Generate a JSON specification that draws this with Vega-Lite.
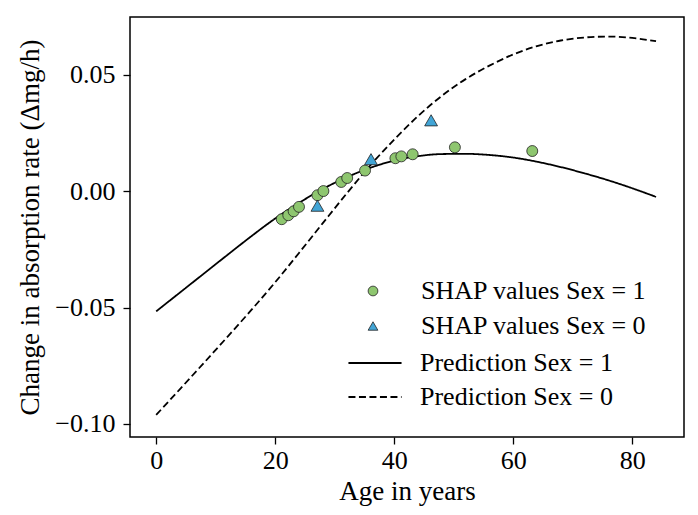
{
  "$schema": "https://vega.github.io/schema/vega-lite/v6.json",
  "width": 554,
  "height": 420,
  "autosize": {"type": "none"},
  "padding": {"left": 130, "top": 17, "right": 14, "bottom": 78},
  "background": "white",
  "config": {
    "font": "Liberation Serif",
    "view": {"stroke": "black", "strokeWidth": 1.5},
    "axis": {
      "domain": false,
      "grid": false,
      "tickColor": "black",
      "tickWidth": 1.3,
      "tickSize": 7,
      "labelFont": "Liberation Serif",
      "labelFontSize": 26,
      "labelColor": "black",
      "titleFont": "Liberation Serif",
      "titleFontSize": 27,
      "titleFontWeight": "normal",
      "titleColor": "black"
    },
    "legend": {
      "labelFont": "Liberation Serif",
      "labelFontSize": 26,
      "labelColor": "black",
      "labelLimit": 0,
      "padding": 0,
      "titlePadding": 0
    }
  },
  "datasets": {
    "points": [
      {"age": 21.1, "shap": -0.0120, "series": "SHAP values Sex = 1"},
      {"age": 22.2, "shap": -0.0103, "series": "SHAP values Sex = 1"},
      {"age": 23.1, "shap": -0.0086, "series": "SHAP values Sex = 1"},
      {"age": 24.0, "shap": -0.0067, "series": "SHAP values Sex = 1"},
      {"age": 27.1, "shap": -0.0017, "series": "SHAP values Sex = 1"},
      {"age": 28.1, "shap": 0.0001, "series": "SHAP values Sex = 1"},
      {"age": 31.1, "shap": 0.0040, "series": "SHAP values Sex = 1"},
      {"age": 32.1, "shap": 0.0057, "series": "SHAP values Sex = 1"},
      {"age": 35.1, "shap": 0.0089, "series": "SHAP values Sex = 1"},
      {"age": 40.2, "shap": 0.0142, "series": "SHAP values Sex = 1"},
      {"age": 41.2, "shap": 0.0150, "series": "SHAP values Sex = 1"},
      {"age": 43.1, "shap": 0.0159, "series": "SHAP values Sex = 1"},
      {"age": 50.2, "shap": 0.0189, "series": "SHAP values Sex = 1"},
      {"age": 63.2, "shap": 0.0173, "series": "SHAP values Sex = 1"},
      {"age": 27.1, "shap": -0.0062, "series": "SHAP values Sex = 0"},
      {"age": 36.1, "shap": 0.0138, "series": "SHAP values Sex = 0"},
      {"age": 46.2, "shap": 0.0305, "series": "SHAP values Sex = 0"}
    ],
    "lines": [
      {"age": 0, "pred": -0.0516, "series": "Prediction Sex = 1"},
      {"age": 4, "pred": -0.0435, "series": "Prediction Sex = 1"},
      {"age": 8, "pred": -0.0354, "series": "Prediction Sex = 1"},
      {"age": 12, "pred": -0.0273, "series": "Prediction Sex = 1"},
      {"age": 16, "pred": -0.0193, "series": "Prediction Sex = 1"},
      {"age": 20, "pred": -0.0117, "series": "Prediction Sex = 1"},
      {"age": 24, "pred": -0.0050, "series": "Prediction Sex = 1"},
      {"age": 28, "pred": 0.0010, "series": "Prediction Sex = 1"},
      {"age": 32, "pred": 0.0060, "series": "Prediction Sex = 1"},
      {"age": 36, "pred": 0.0101, "series": "Prediction Sex = 1"},
      {"age": 40, "pred": 0.0132, "series": "Prediction Sex = 1"},
      {"age": 44, "pred": 0.0151, "series": "Prediction Sex = 1"},
      {"age": 48, "pred": 0.0160, "series": "Prediction Sex = 1"},
      {"age": 52, "pred": 0.0161, "series": "Prediction Sex = 1"},
      {"age": 56, "pred": 0.0156, "series": "Prediction Sex = 1"},
      {"age": 60, "pred": 0.0145, "series": "Prediction Sex = 1"},
      {"age": 64, "pred": 0.0127, "series": "Prediction Sex = 1"},
      {"age": 68, "pred": 0.0104, "series": "Prediction Sex = 1"},
      {"age": 72, "pred": 0.0077, "series": "Prediction Sex = 1"},
      {"age": 76, "pred": 0.0047, "series": "Prediction Sex = 1"},
      {"age": 80, "pred": 0.0013, "series": "Prediction Sex = 1"},
      {"age": 84, "pred": -0.0024, "series": "Prediction Sex = 1"},
      {"age": 0, "pred": -0.0961, "series": "Prediction Sex = 0"},
      {"age": 4, "pred": -0.0850, "series": "Prediction Sex = 0"},
      {"age": 8, "pred": -0.0738, "series": "Prediction Sex = 0"},
      {"age": 12, "pred": -0.0625, "series": "Prediction Sex = 0"},
      {"age": 16, "pred": -0.0510, "series": "Prediction Sex = 0"},
      {"age": 20, "pred": -0.0391, "series": "Prediction Sex = 0"},
      {"age": 24, "pred": -0.0265, "series": "Prediction Sex = 0"},
      {"age": 28, "pred": -0.0137, "series": "Prediction Sex = 0"},
      {"age": 32, "pred": -0.0010, "series": "Prediction Sex = 0"},
      {"age": 36, "pred": 0.0112, "series": "Prediction Sex = 0"},
      {"age": 40, "pred": 0.0222, "series": "Prediction Sex = 0"},
      {"age": 44, "pred": 0.0323, "series": "Prediction Sex = 0"},
      {"age": 48, "pred": 0.0410, "series": "Prediction Sex = 0"},
      {"age": 52, "pred": 0.0482, "series": "Prediction Sex = 0"},
      {"age": 56, "pred": 0.0540, "series": "Prediction Sex = 0"},
      {"age": 60, "pred": 0.0588, "series": "Prediction Sex = 0"},
      {"age": 64, "pred": 0.0624, "series": "Prediction Sex = 0"},
      {"age": 68, "pred": 0.0648, "series": "Prediction Sex = 0"},
      {"age": 72, "pred": 0.0661, "series": "Prediction Sex = 0"},
      {"age": 76, "pred": 0.0665, "series": "Prediction Sex = 0"},
      {"age": 80, "pred": 0.0659, "series": "Prediction Sex = 0"},
      {"age": 84, "pred": 0.0645, "series": "Prediction Sex = 0"}
    ]
  },
  "encoding": {
    "x": {
      "type": "quantitative",
      "scale": {"domain": [-4.4, 88.7], "nice": false, "zero": false},
      "axis": {"title": "Age in years", "values": [0, 20, 40, 60, 80], "format": "d", "labelPadding": 3, "titlePadding": 5}
    },
    "y": {
      "type": "quantitative",
      "scale": {"domain": [-0.1056, 0.0749], "nice": false, "zero": false},
      "axis": {"title": "Change in absorption rate (Δmg/h)", "values": [-0.1, -0.05, 0, 0.05], "format": ".2f", "labelPadding": 8, "titlePadding": 10}
    }
  },
  "layer": [
    {
      "data": {"name": "lines"},
      "mark": {"type": "line", "color": "black", "strokeWidth": 1.8, "interpolate": "monotone", "clip": true},
      "encoding": {
        "x": {"field": "age"},
        "y": {"field": "pred"},
        "strokeDash": {
          "field": "series",
          "type": "nominal",
          "scale": {"domain": ["Prediction Sex = 1", "Prediction Sex = 0"], "range": [[1, 0], [7, 3.5]]},
          "legend": {
            "title": null,
            "orient": "none",
            "legendX": 229,
            "legendY": 330,
            "rowPadding": 5,
            "symbolSize": 900,
            "symbolType": "M-1.77,0H1.77",
            "symbolStrokeColor": "black",
            "symbolStrokeWidth": 1.8,
            "labelOffset": 29
          }
        }
      }
    },
    {
      "data": {"name": "points"},
      "mark": {"type": "point", "filled": true, "stroke": "#222222", "strokeWidth": 0.8, "opacity": 1},
      "encoding": {
        "x": {"field": "age"},
        "y": {"field": "shap"},
        "shape": {
          "field": "series",
          "type": "nominal",
          "scale": {"domain": ["SHAP values Sex = 1", "SHAP values Sex = 0"], "range": ["circle", "triangle-up"]},
          "legend": {
            "title": null,
            "orient": "none",
            "legendX": 230,
            "legendY": 261,
            "rowPadding": 9,
            "symbolSize": 95,
            "symbolStrokeColor": "#222222",
            "symbolStrokeWidth": 0.8,
            "symbolOpacity": 1,
            "labelOffset": 35
          }
        },
        "color": {
          "field": "series",
          "type": "nominal",
          "scale": {"domain": ["SHAP values Sex = 1", "SHAP values Sex = 0"], "range": ["#8ec66f", "#42a5d6"]}
        },
        "size": {
          "condition": {"test": "datum.series === 'SHAP values Sex = 0'", "value": 165},
          "value": 120
        }
      }
    }
  ]
}
